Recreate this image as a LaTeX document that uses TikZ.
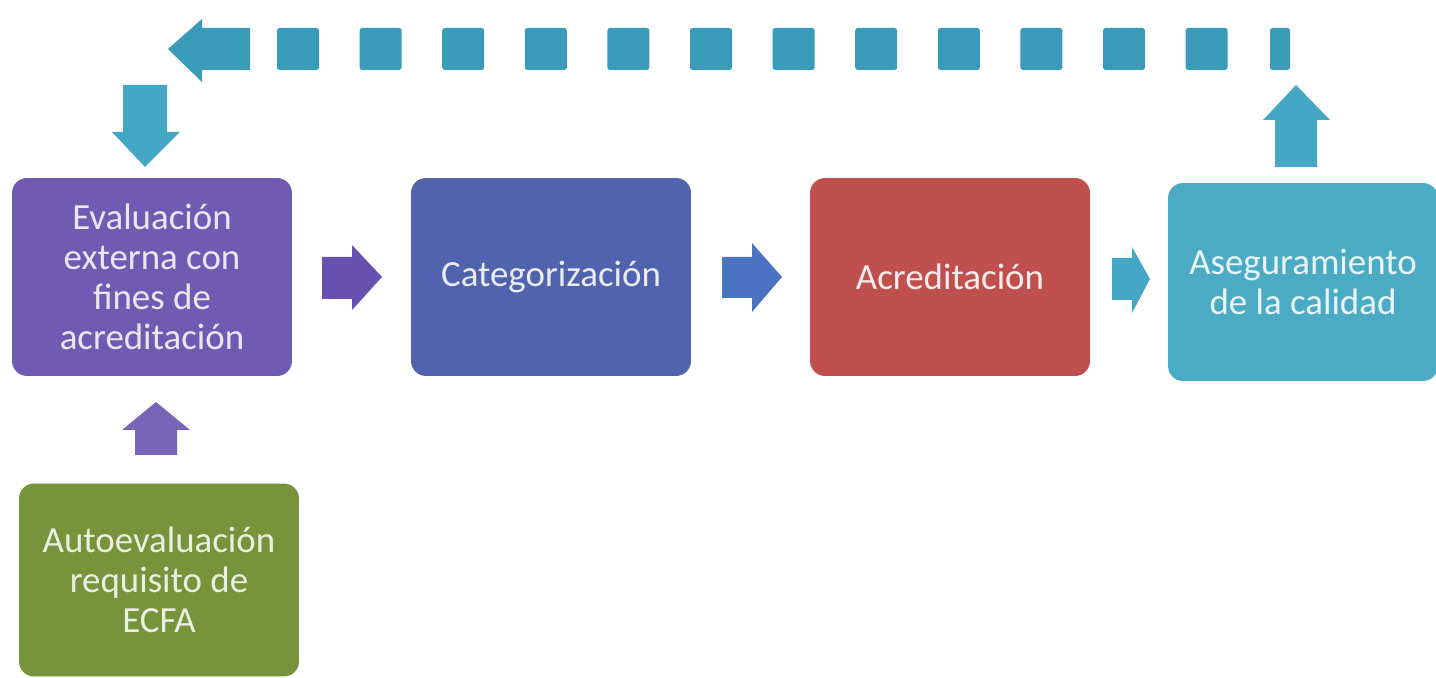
\documentclass[tikz,border=0pt]{standalone}
\usepackage{fontspec}
\setmainfont{Carlito}
\usetikzlibrary{positioning}
\definecolor{evalpurple}{HTML}{6F5CB2}
\definecolor{catblue}{HTML}{5163AF}
\definecolor{acred}{HTML}{C0504D}
\definecolor{asegteal}{HTML}{4BABC5}
\definecolor{autogreen}{HTML}{77933C}
\definecolor{arrpurple}{HTML}{6650B0}
\definecolor{arrblue}{HTML}{4A74C2}
\definecolor{arrteal}{HTML}{45A7C6}
\definecolor{loopteal}{HTML}{3A9BB9}

\begin{document}
\begin{tikzpicture}[
    x=0.02cm, y=-0.02cm,
    every node/.style={font=\fontsize{21}{22.7}\selectfont},
    stage/.style={
        rectangle,
        rounded corners=0.3cm,
        inner sep=0pt,
        align=center,
        minimum width=5.6cm,
        minimum height=3.96cm
    }
]
\useasboundingbox (0,0) rectangle (1436,678);

% stages
\node[stage, fill=evalpurple, text=evalpurple!15] (eval) at (152,277)
    {Evaluación\\externa con\\fines de\\acreditación};
\node[stage, fill=catblue, text=catblue!12] (categ) at (551,277) {Categorización};
\node[stage, fill=acred, text=acred!10] (acred) at (950,277) {Acreditación};
\node[stage, fill=asegteal, text=asegteal!12, minimum width=5.4cm] (aseg) at (1303,282)
    {Aseguramiento\\de la calidad};
\node[stage, fill=autogreen, text=autogreen!15, minimum height=3.86cm] (auto) at (159,580)
    {Autoevaluación\\requisito de\\ECFA};

% block arrows between stages
\fill[arrpurple] (322,257) -- (352,257) -- (352,245) -- (382,277) -- (352,310)
    -- (352,299) -- (322,299) -- cycle;
\fill[arrblue] (722,257) -- (752,257) -- (752,243) -- (782,277) -- (752,312)
    -- (752,298) -- (722,298) -- cycle;
\fill[arrteal] (1112,258) -- (1132,258) -- (1132,247) -- (1150,279) -- (1132,313)
    -- (1132,300) -- (1112,300) -- cycle;
\fill[evalpurple!95!white] (135,455) -- (135,430) -- (122,430) -- (156,402) -- (190,430)
    -- (177,430) -- (177,455) -- cycle;

% feedback loop
\fill[arrteal] (1275,167) -- (1275,120) -- (1263,120) -- (1296,85) -- (1330,120)
    -- (1317,120) -- (1317,167) -- cycle;
\foreach \k in {0,...,11}
    \fill[loopteal, rounded corners=1.5pt] ({277+82.6*\k},28) rectangle ++(42,42);
\fill[loopteal, rounded corners=1.5pt] (1270,28) rectangle (1290,70);
\fill[loopteal] (250,28) -- (202,28) -- (202,19) -- (168,49) -- (202,82)
    -- (202,70) -- (250,70) -- cycle;
\fill[arrteal] (123,85) -- (167,85) -- (167,132) -- (180,132) -- (145,167)
    -- (112,132) -- (123,132) -- cycle;

\end{tikzpicture}
\end{document}
